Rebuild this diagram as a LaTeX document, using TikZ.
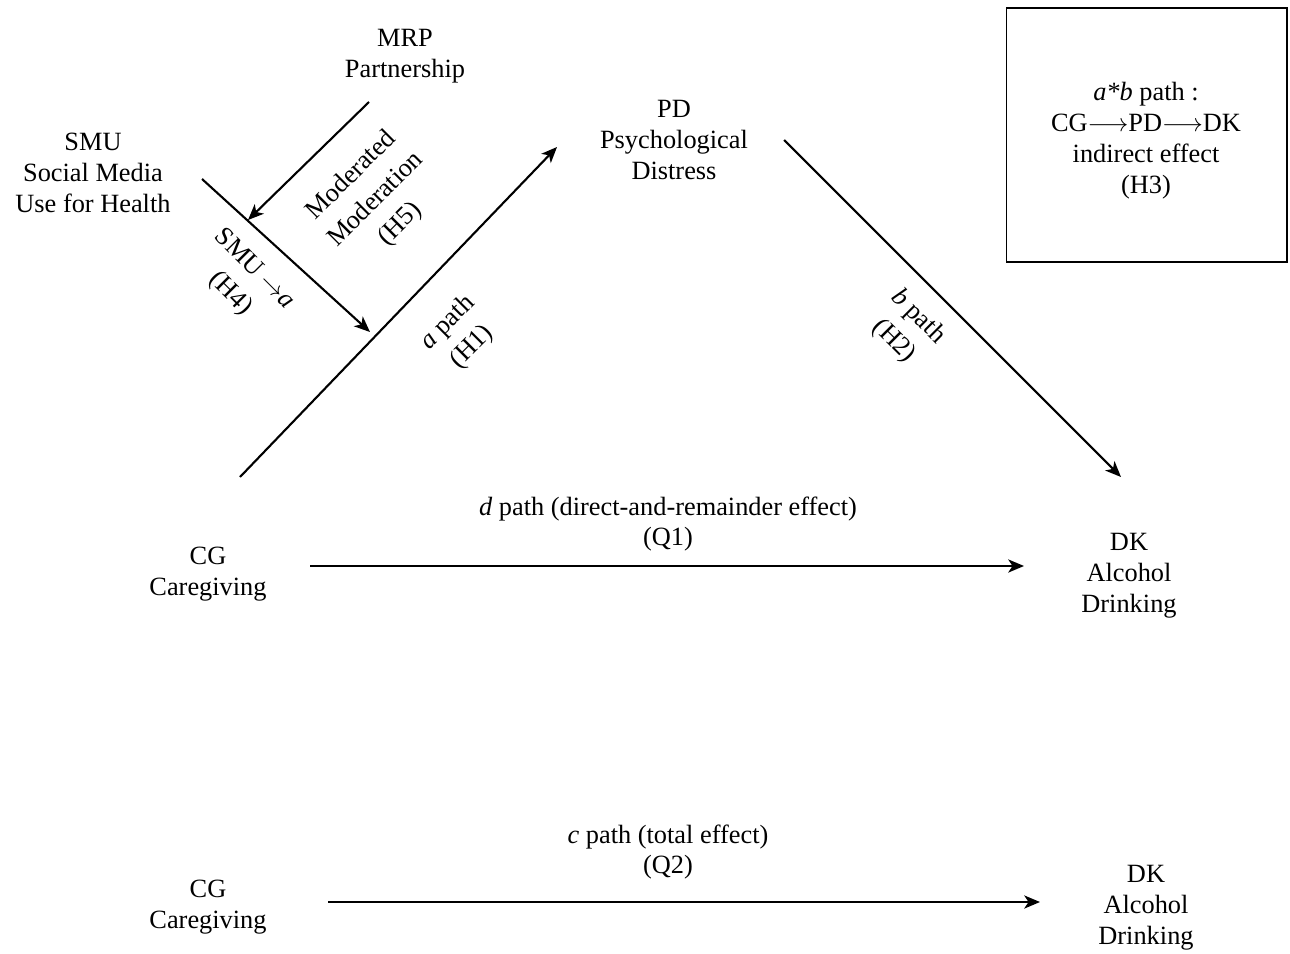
\documentclass[tikz,border=0pt]{standalone}
\usepackage{fontspec}
\setmainfont{Liberation Serif}
\usetikzlibrary{arrows.meta,positioning}

\begin{document}
\begin{tikzpicture}[x=0.02cm, y=-0.02cm,
    var/.style={align=center, font=\fontsize{15}{17.6}\selectfont, inner sep=0pt},
    lab/.style={align=center, font=\fontsize{15}{17.6}\selectfont, inner sep=0pt},
    rlab/.style={align=center, font=\fontsize{15}{19.5}\selectfont, inner sep=0pt},
    arr/.style={line width=1.2pt, -{Stealth[length=9pt, width=7.5pt, inset=2.5pt]}}]
\useasboundingbox (0,0) rectangle (1290,953);

% variables
\node[var] (smu) at (93,173) {SMU\\Social Media\\Use for Health};
\node[var] (mrp) at (405,56) {MRP\\Partnership};
\node[var] (pd) at (674,140) {PD\\Psychological\\Distress};
\node[var] (cg) at (208,574) {CG\\Caregiving};
\node[var] (dk) at (1129,576) {DK\\Alcohol\\Drinking};
\node[var] (cgt) at (208,907) {CG\\Caregiving};
\node[var] (dkt) at (1146,908) {DK\\Alcohol\\Drinking};
\node[draw, line width=.6pt, minimum width=5.62cm, minimum height=5.08cm] (ind) at (1146.5,135) {};
\node[var] (indtxt) at (1146,141)
  {\textit{a*b} path :\\CG$\longrightarrow$PD$\longrightarrow$DK\\indirect effect\\(H3)};

% path ends
\coordinate (a1) at (240,477); \coordinate (a2) at (557,147);
\coordinate (b1) at (784,140); \coordinate (b2) at (1121,477);
\coordinate (s1) at (202,179); \coordinate (s2) at (370,332);
\coordinate (m1) at (369,102); \coordinate (m2) at (248,220);
\coordinate (d1) at (310,566); \coordinate (d2) at (1024,566);
\coordinate (c1) at (328,902); \coordinate (c2) at (1040,902);
\foreach \u/\v in {a1/a2,b1/b2,s1/s2,m1/m2,d1/d2,c1/c2} \draw[arr] (\u) -- (\v);

% path labels
\node[rlab, rotate=45] (h1) at (460,335) {\textit{a} path\\(H1)};
\node[rlab, rotate=-45] (h2) at (906,329) {\textit{b} path\\(H2)};
\node[rlab, rotate=-45] (h4) at (242,282) {SMU\ $\rightarrow$\textit{a}\\(H4)};
\node[rlab, rotate=45] (h5) at (376,200) {Moderated\\Moderation\\(H5)};
\node[lab] (q1) at (668,524) {\textit{d} path (direct-and-remainder effect)\\(Q1)};
\node[lab] (q2) at (668,852) {\textit{c} path (total effect)\\(Q2)};
\end{tikzpicture}
\end{document}
